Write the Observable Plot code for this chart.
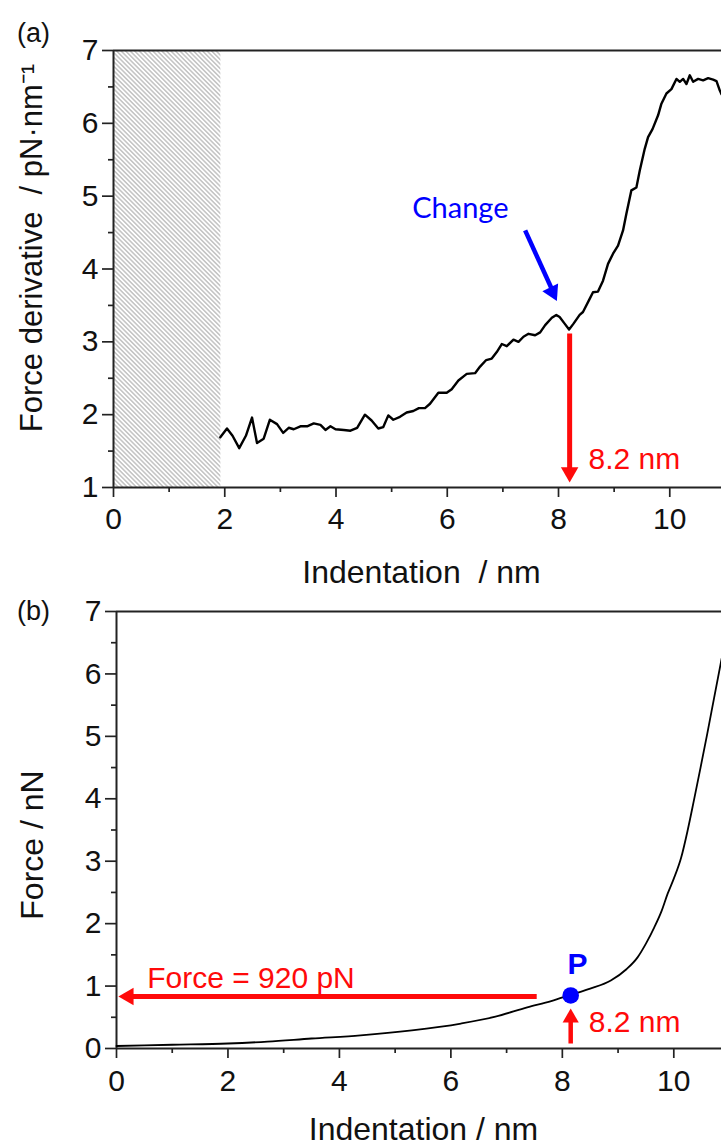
<!DOCTYPE html>
<html><head><meta charset="utf-8">
<script src="https://cdn.jsdelivr.net/npm/d3@7"></script>
<script src="https://cdn.jsdelivr.net/npm/@observablehq/plot@0.6"></script>
<style>
body{margin:0;background:#fff;}
svg{display:block;}
</style>
</head><body><div id="chart"></div>
<script>
// ---- Panel (a): force derivative vs indentation ----
const derivX = [1.92,2.04,2.14,2.26,2.38,2.49,2.58,2.70,2.81,2.94,3.05,3.15,3.24,3.36,3.48,3.60,3.72,3.81,3.90,3.99,4.14,4.26,4.38,4.52,4.64,4.76,4.85,4.94,5.03,5.15,5.27,5.39,5.49,5.60,5.69,5.84,5.99,6.08,6.20,6.35,6.50,6.59,6.70,6.80,6.89,6.98,7.07,7.19,7.28,7.37,7.46,7.58,7.67,7.76,7.88,7.96,8.02,8.11,8.19,8.27,8.38,8.44,8.56,8.62,8.71,8.80,8.89,8.98,9.07,9.16,9.22,9.31,9.40,9.46,9.55,9.61,9.69,9.79,9.85,9.94,10.03,10.12,10.18,10.24,10.30,10.36,10.42,10.51,10.60,10.69,10.78,10.84,10.90,10.93];
const derivY = [1.69,1.81,1.71,1.54,1.71,1.96,1.61,1.67,1.93,1.87,1.75,1.82,1.80,1.84,1.84,1.88,1.86,1.79,1.84,1.80,1.79,1.78,1.82,2.00,1.92,1.81,1.83,1.99,1.93,1.97,2.03,2.05,2.09,2.09,2.15,2.30,2.30,2.35,2.47,2.56,2.57,2.66,2.75,2.77,2.86,2.97,2.94,3.03,3.00,3.07,3.11,3.09,3.13,3.23,3.33,3.37,3.34,3.25,3.17,3.25,3.37,3.41,3.59,3.68,3.69,3.84,4.07,4.21,4.32,4.53,4.76,5.08,5.12,5.35,5.65,5.81,5.92,6.11,6.27,6.41,6.47,6.61,6.57,6.61,6.54,6.66,6.57,6.61,6.59,6.62,6.60,6.58,6.45,6.40];
const hatchRange = [0, 1.93];          // excluded region (nm)
const changeLabel = "Change";
const changeArrow = [7.40, 4.53, 7.92, 3.657, 7.97, 3.56]; // x1,y1,shaft end x,y, tip x,y
const markIndent = 8.2;                 // nm
const markLabel = "8.2 nm";

// ---- Panel (b): force vs indentation ----
const forceX = [0,1,2,2.71,3.5,4.38,5.3,6.18,6.8,7.37,7.8,8.15,8.5,8.87,9.15,9.35,9.5,9.65,9.78,9.89,10.0,10.13,10.25,10.36,10.48,10.60,10.72,10.86];
const forceY = [0.04,0.06,0.08,0.11,0.16,0.21,0.29,0.40,0.51,0.66,0.76,0.86,0.96,1.09,1.27,1.46,1.68,1.94,2.2,2.48,2.72,3.05,3.5,3.97,4.5,5.04,5.6,6.25];
const pointP = {x: 8.15, y: 0.85, label: "P"};
const forceLabel = "Force = 920 pN";
const forceLevel = 0.833;

// ---- ticks ----
const xMajor = [0,2,4,6,8,10];
const xMinor = [1,3,5,7,9];
const yMajorA = [1,2,3,4,5,6,7];
const yMinorA = [1.5,2.5,3.5,4.5,5.5,6.5];
const yMajorB = [0,1,2,3,4,5,6,7];
const yMinorB = [0.5,1.5,2.5,3.5,4.5,5.5,6.5];

const FONT = "'Liberation Sans', Arial, Helvetica, sans-serif";
const RED = "#ff0a0a", BLUE = "#0000ff", AX = "#222";
const noText = () => "";
const intText = d => String(d);

const derivData = derivX.map((x,i)=>({x, y: derivY[i]}));
const forceData = forceX.map((x,i)=>({x, y: forceY[i]}));

const svgA = Plot.plot({
  width: 721, height: 590,
  marginTop: 50, marginBottom: 103, marginLeft: 113, marginRight: 0,
  style: {fontFamily: FONT, background: "#fff", color: "#111", overflow: "visible"},
  x: {domain: [0, 10.93]},
  y: {domain: [1, 7]},
  marks: [
    Plot.rect([{x1: hatchRange[0], x2: hatchRange[1], y1: 1, y2: 7}], {x1:"x1", x2:"x2", y1:"y1", y2:"y2", fill: "url(#hatchA)"}),
    Plot.ruleX([0], {stroke: AX, strokeWidth: 2}),
    Plot.ruleY([1], {stroke: AX, strokeWidth: 2}),
    Plot.ruleY([7], {stroke: AX, strokeWidth: 2}),
    Plot.axisY(yMajorA, {anchor: "left", tickSize: 11, tickPadding: 4, fontSize: 30, tickFormat: intText, label: null, stroke: AX, strokeWidth: 1.7}),
    Plot.axisY(yMinorA, {anchor: "left", tickSize: 5, tickFormat: noText, label: null, stroke: AX, strokeWidth: 1.7}),
    Plot.axisX(xMajor, {anchor: "bottom", tickSize: 10, tickPadding: 10, fontSize: 30, tickFormat: intText, label: null, stroke: AX, strokeWidth: 1.7}),
    Plot.axisX(xMinor, {anchor: "bottom", tickSize: 5, tickFormat: noText, label: null, stroke: AX, strokeWidth: 1.7}),
    Plot.line(derivData, {x: "x", y: "y", stroke: "#000", strokeWidth: 2.4, strokeLinejoin: "round"}),
    // blue "Change" arrow
    Plot.link([0], {x1: () => changeArrow[0], y1: () => changeArrow[1], x2: () => changeArrow[2], y2: () => changeArrow[3], stroke: BLUE, strokeWidth: 4.5}),
    Plot.dot([0], {x: () => changeArrow[4], y: () => changeArrow[5], symbol: "triangle", r: 6.5, fill: BLUE, rotate: 154, dx: -4.4, dy: -9.1}),
    Plot.text([changeLabel], {x: () => 5.37, y: () => 4.83, text: d => d, textAnchor: "start", fill: BLUE, fontSize: 29, fontFamily: "Lato, 'Open Sans', sans-serif"}),
    // red 8.2 nm arrow
    Plot.link([0], {x1: () => markIndent, y1: () => 3.114, x2: () => markIndent, y2: () => 1.21, stroke: RED, strokeWidth: 5}),
    Plot.dot([0], {x: () => markIndent, y: () => 1.07, symbol: "triangle", r: 6.5, fill: RED, rotate: 180, dy: -10}),
    Plot.text([markLabel], {x: () => 8.54, y: () => 1.38, text: d => d, textAnchor: "start", fill: RED, fontSize: 30}),
    // labels
    Plot.text(["Indentation  / nm"], {frameAnchor: "bottom", text: d => d, fontSize: 32, textAnchor: "middle", lineAnchor: "middle", dx: 4, dy: 85}),
    Plot.text(["Force derivative  / pN\u00B7nm\u207B\u00B9"], {frameAnchor: "left", text: d => d, fontSize: 31, textAnchor: "middle", lineAnchor: "middle", rotate: -90, dx: -81, dy: -21}),
    Plot.text(["(a)"], {frameAnchor: "top-left", text: d => d, fontSize: 27, textAnchor: "middle", lineAnchor: "middle", dx: -80, dy: -17})
  ]
});

const svgB = Plot.plot({
  width: 721, height: 556,
  marginTop: 21, marginBottom: 98, marginLeft: 116, marginRight: 0,
  style: {fontFamily: FONT, background: "#fff", color: "#111", overflow: "visible"},
  x: {domain: [0, 10.856]},
  y: {domain: [0, 7]},
  marks: [
    Plot.ruleX([0], {stroke: AX, strokeWidth: 2}),
    Plot.ruleY([0], {stroke: AX, strokeWidth: 2}),
    Plot.ruleY([7], {stroke: AX, strokeWidth: 2}),
    Plot.axisY(yMajorB, {anchor: "left", tickSize: 11, tickPadding: 4, fontSize: 30, tickFormat: intText, label: null, stroke: AX, strokeWidth: 1.7}),
    Plot.axisY(yMinorB, {anchor: "left", tickSize: 5, tickFormat: noText, label: null, stroke: AX, strokeWidth: 1.7}),
    Plot.axisX(xMajor, {anchor: "bottom", tickSize: 10, tickPadding: 11, fontSize: 30, tickFormat: intText, label: null, stroke: AX, strokeWidth: 1.7}),
    Plot.axisX(xMinor, {anchor: "bottom", tickSize: 5, tickFormat: noText, label: null, stroke: AX, strokeWidth: 1.7}),
    Plot.line(forceData, {x: "x", y: "y", stroke: "#000", strokeWidth: 1.8, curve: "monotone-x"}),
    // horizontal force arrow
    Plot.link([0], {x1: () => 7.54, y1: () => forceLevel, x2: () => 0.18, y2: () => forceLevel, stroke: RED, strokeWidth: 5}),
    Plot.dot([0], {x: () => 0.036, y: () => forceLevel, symbol: "triangle", r: 6.5, fill: RED, rotate: -90, dx: 10}),
    Plot.text([forceLabel], {x: () => 0.55, y: () => 1.13, text: d => d, textAnchor: "start", fill: RED, fontSize: 30}),
    // vertical 8.2 nm arrow
    Plot.link([0], {x1: () => pointP.x, y1: () => 0.08, x2: () => pointP.x, y2: () => 0.51, stroke: RED, strokeWidth: 4.5}),
    Plot.dot([0], {x: () => pointP.x, y: () => 0.64, symbol: "triangle", r: 6, fill: RED, dy: 9.3}),
    Plot.text([markLabel], {x: () => 8.475, y: () => 0.42, text: d => d, textAnchor: "start", fill: RED, fontSize: 30}),
    // point P
    Plot.dot([pointP], {x: "x", y: "y", r: 8.3, fill: BLUE}),
    Plot.text([pointP], {x: () => 8.27, y: () => 1.35, text: "label", fill: BLUE, fontSize: 30, fontWeight: "bold"}),
    // labels
    Plot.text(["Indentation / nm"], {frameAnchor: "bottom", text: d => d, fontSize: 32, textAnchor: "middle", lineAnchor: "middle", dx: 4.5, dy: 81}),
    Plot.text(["Force / nN"], {frameAnchor: "left", text: d => d, fontSize: 32, textAnchor: "middle", lineAnchor: "middle", rotate: -90, dx: -84, dy: 15}),
    Plot.text(["(b)"], {frameAnchor: "top-left", text: d => d, fontSize: 27, textAnchor: "middle", lineAnchor: "middle", dx: -83, dy: 0})
  ]
});

// hatch pattern definition for the excluded region
const defs = d3.select(svgA).insert("defs", ":first-child");
const pat = defs.append("pattern").attr("id", "hatchA").attr("patternUnits", "userSpaceOnUse")
  .attr("width", 8).attr("height", 3.2).attr("patternTransform", "rotate(45)");
pat.append("rect").attr("width", 8).attr("height", 3.2).attr("fill", "#ffffff");
pat.append("line").attr("x1", 0).attr("x2", 8).attr("y1", 1.6).attr("y2", 1.6).attr("stroke", "#9a9a9a").attr("stroke-width", 0.9);

const root = document.getElementById("chart");
root.appendChild(svgA);
root.appendChild(svgB);
</script>
</body></html>
